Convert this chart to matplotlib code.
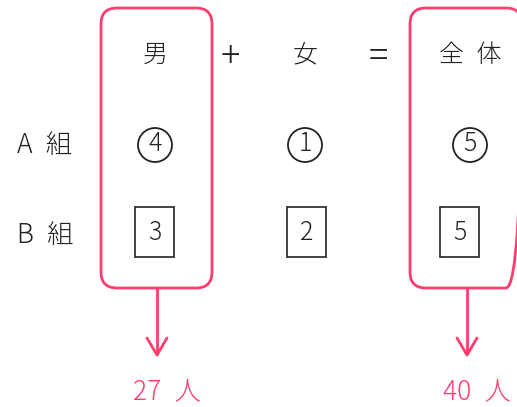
import matplotlib.pyplot as plt
from matplotlib.patches import FancyBboxPatch, Rectangle, Circle

plt.rcParams['font.family'] = ['Noto Sans CJK JP', 'DejaVu Sans']

# données du schéma
entetes = ["男", "女", "全\u2002体"]
operateurs = ["+", "="]
groupes = ["A\u2002組", "B\u2002組"]
cercles = ["4", "1", "5"]      # ligne A (nombres entourés)
carres = ["3", "2", "5"]       # ligne B (nombres encadrés)
totaux = ["27\u2002人", "40\u2002人"]

rose = "#ff3d6e"
noir = "#222222"

fig = plt.figure(figsize=(5.17, 4.07), dpi=100)
ax = fig.add_axes([0, 0, 1, 1])
ax.set_xlim(0, 517)
ax.set_ylim(407, 0)
ax.axis("off")

col_x = [155, 305, 470]
carre_x = [155, 307, 460]
op_x = [230, 378]
y_tete, y_a, y_b = 55, 145, 235

# cadres arrondis (男 et 全体)
for x0, w in [(101, 111), (410, 112)]:
    ax.add_patch(FancyBboxPatch((x0, 8), w, 280,
                                boxstyle="round,pad=0,rounding_size=16",
                                fc="none", ec=rose, lw=2))

# en-têtes
for x, t in zip(col_x, entetes):
    ax.text(x, y_tete, t, ha="center", va="center", fontsize=18,
            color=noir, fontweight="light")
for x, t in zip(op_x, operateurs):
    ax.text(x, y_tete + 2, t, ha="center", va="center", fontsize=26,
            color=noir, fontweight="light")

# groupes
for y, t in zip([y_a, y_b], groupes):
    ax.text(45, y, t, ha="center", va="center", fontsize=19,
            color=noir, fontweight="light")

# ligne A : cercles
for x, v in zip(col_x, cercles):
    ax.add_patch(Circle((x, y_a), 17, fc="none", ec=noir, lw=1.3))
    ax.text(x, y_a - 1, v, ha="center", va="center", fontsize=18,
            color=noir, fontweight="light")

# ligne B : carrés
for x, v in zip(carre_x, carres):
    ax.add_patch(Rectangle((x - 20, 207), 39, 50, fc="none", ec=noir, lw=1.2))
    ax.text(x, y_b - 2, v, ha="center", va="center", fontsize=18,
            color=noir, fontweight="light")

# flèches et totaux
for x, xt, t in zip([157, 467], [167, 477], totaux):
    ax.plot([x, x], [288, 354], color=rose, lw=2, solid_capstyle="round")
    ax.plot([x - 10, x, x + 10], [338, 355, 338], color=rose, lw=2,
            solid_joinstyle="round", solid_capstyle="round")
    ax.text(xt, 391, t, ha="center", va="center", fontsize=19,
            color=rose, fontweight="light")

fig.savefig("out.png", dpi=100)
